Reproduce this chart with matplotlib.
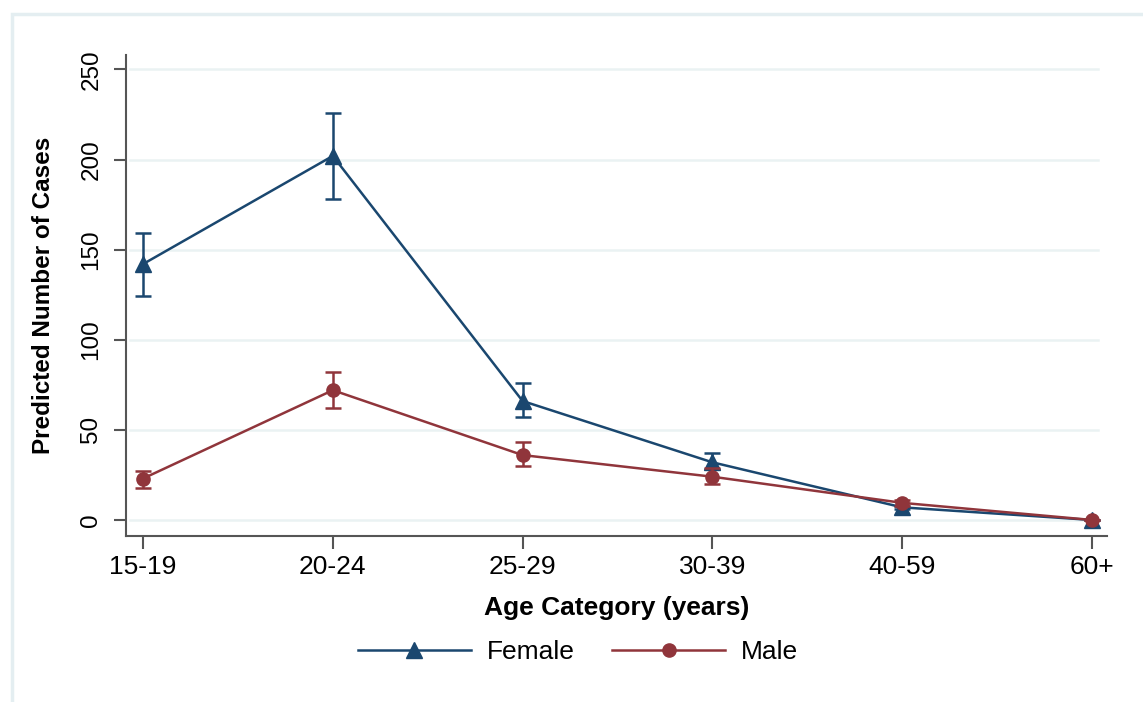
import matplotlib
matplotlib.use("Agg")
import matplotlib.pyplot as plt
from matplotlib.patches import Rectangle
from matplotlib.lines import Line2D
import numpy as np

categories = ["15-19", "20-24", "25-29", "30-39", "40-59", "60+"]
female = [142, 202, 66, 32, 7, 0]
female_lo = [124, 178, 57, 28, 6, 0]
female_hi = [159, 226, 76, 37, 8, 0]
male = [23, 72, 36, 24, 9.5, 0]
male_lo = [18, 62, 30, 20, 8, 0]
male_hi = [27, 82, 43, 29, 11, 0]
yticks = [0, 50, 100, 150, 200, 250]

plt.rcParams['font.family'] = ['Liberation Sans', 'DejaVu Sans']

navy = "#1a476f"
maroon = "#90353b"

fig = plt.figure(figsize=(11.43, 7.02), dpi=100)
fig.patches.append(Rectangle((12/1143, -0.1), 1.2, 1 - 14/702 + 0.1, transform=fig.transFigure,
                             fill=False, edgecolor="#e4eef1", linewidth=2.5, zorder=0))
ax = fig.add_axes([126/1143, 1 - 536/702, (1107 - 126)/1143, (536 - 55)/702])

x = np.arange(len(categories))
f = np.array(female); m = np.array(male)
ferr = [f - np.array(female_lo), np.array(female_hi) - f]
merr = [m - np.array(male_lo), np.array(male_hi) - m]

ax.errorbar(x, f, yerr=ferr, color=navy, ecolor=navy, marker="^", markersize=12,
            linewidth=1.8, elinewidth=1.8, capsize=6, capthick=1.8, zorder=3)
ax.errorbar(x, m, yerr=merr, color=maroon, ecolor=maroon, marker="o", markersize=9.5,
            linewidth=1.8, elinewidth=1.8, capsize=6, capthick=1.8, zorder=4)

ax.set_xlim(-0.09, 5.08)
ax.set_ylim(-8.9, 258)
ax.set_yticks(yticks)
ax.set_xticks(x)
ax.set_xticklabels(categories, fontsize=19)
ax.set_yticklabels([str(t) for t in yticks], fontsize=17.5, rotation=90, va="center")
ax.tick_params(axis="y", pad=8)
for t in yticks:
    ax.plot([-0.07, 5.03], [t, t], color="#eaf2f3", linewidth=1.8, zorder=0)

for s in ["top", "right"]:
    ax.spines[s].set_visible(False)
for s in ["left", "bottom"]:
    ax.spines[s].set_color("#555555")
    ax.spines[s].set_linewidth(1.5)
ax.tick_params(axis="both", length=9, width=1.5, color="#555555")
ax.tick_params(axis="x", pad=5)
ax.tick_params(axis="y", pad=8)

ax.set_xlabel("Age Category (years)", fontsize=19, fontweight="bold", labelpad=12)
ax.set_ylabel("Predicted Number of Cases", fontsize=17.5, fontweight="bold", labelpad=18)

handles = [Line2D([], [], color=navy, marker="^", markersize=12, linewidth=1.8),
           Line2D([], [], color=maroon, marker="o", markersize=9.5, linewidth=1.8)]
fig.legend(handles, ["Female", "Male"], loc="center", bbox_to_anchor=(578/1143, 1 - 652/702), ncol=2,
           frameon=False, fontsize=19, handlelength=4.3, columnspacing=1.4, handletextpad=0.6)

fig.savefig("out.png", dpi=100, facecolor="white")
